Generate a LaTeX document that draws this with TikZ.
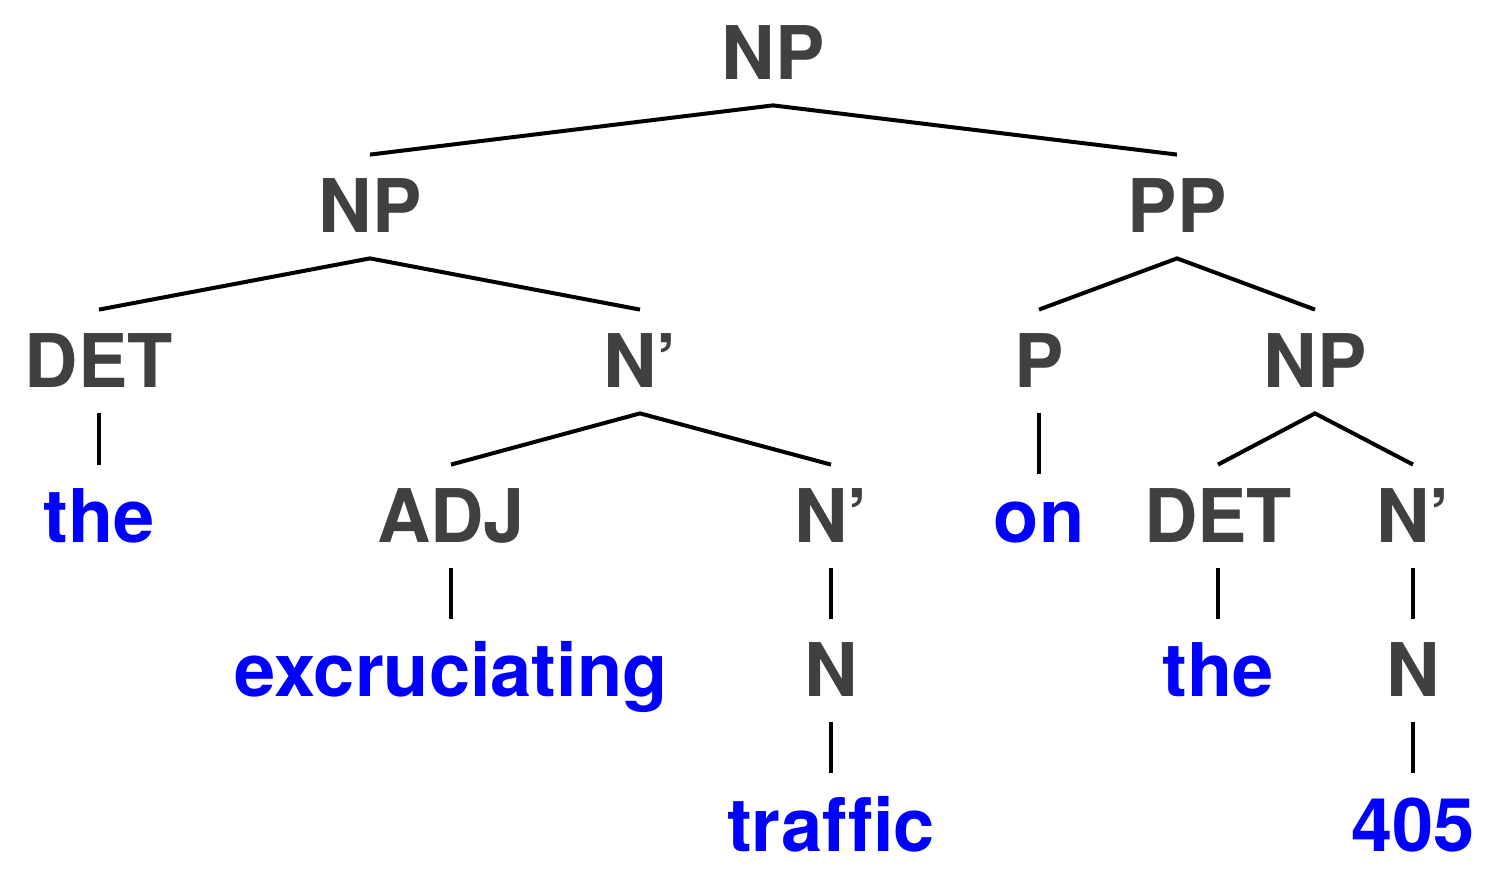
\documentclass[tikz,border=0pt]{standalone}
\usepackage{fontspec}
\setmainfont[Ligatures=NoCommon]{TeX Gyre Heros}
\definecolor{catgray}{HTML}{404040}
\definecolor{wordblue}{HTML}{0000FF}
\begin{document}
\begin{tikzpicture}[x=0.5pt,y=-0.5pt,
  cat/.style={font=\fontsize{37}{44}\selectfont\bfseries, text=catgray, text height=26.5pt, text depth=0pt, inner xsep=0pt, inner ysep=12.5pt, anchor=base},
  word/.style={cat, text=wordblue},
  edge/.style={draw=black, line width=2pt}]
\useasboundingbox (0,0) rectangle (1500,876);
% row 1
\node[cat] (np0) at (773,80) {NP};
% row 2
\node[cat] (np1) at (370,233) {NP};
\node[cat] (pp) at (1177,233) {PP};
% row 3
\node[cat] (det1) at (99,388) {DET};
\node[cat] (nb1) at (640,388) {N’};
\node[cat] (p) at (1039,388) {P};
\node[cat] (np2) at (1315,388) {NP};
% row 4
\node[word] (the1) at (99,543) {the};
\node[cat] (adj) at (451,543) {ADJ};
\node[cat] (nb2) at (831,543) {N’};
\node[word, text height=22pt] (on) at (1039,543) {on};
\node[cat] (det2) at (1218,543) {DET};
\node[cat] (nb3) at (1413,543) {N’};
% row 5
\node[word] (exc) at (451,697) {excruciating};
\node[cat] (n1) at (831,697) {N};
\node[word] (the2) at (1218,697) {the};
\node[cat] (n2) at (1413,697) {N};
% row 6
\node[word] (traffic) at (831,851) {traffic};
\node[word] (n405) at (1413,851) {405};
% edges
\draw[edge] (np1.north) -- (np0.south) -- (pp.north);
\draw[edge] (det1.north) -- (np1.south) -- (nb1.north);
\draw[edge] (p.north) -- (pp.south) -- (np2.north);
\draw[edge] (det1.south) -- (the1.north);
\draw[edge] (adj.north) -- (nb1.south) -- (nb2.north);
\draw[edge] (p.south) -- (on.north);
\draw[edge] (det2.north) -- (np2.south) -- (nb3.north);
\draw[edge] (adj.south) -- (exc.north);
\draw[edge] (nb2.south) -- (n1.north);
\draw[edge] (det2.south) -- (the2.north);
\draw[edge] (nb3.south) -- (n2.north);
\draw[edge] (n1.south) -- (traffic.north);
\draw[edge] (n2.south) -- (n405.north);
\end{tikzpicture}
\end{document}
